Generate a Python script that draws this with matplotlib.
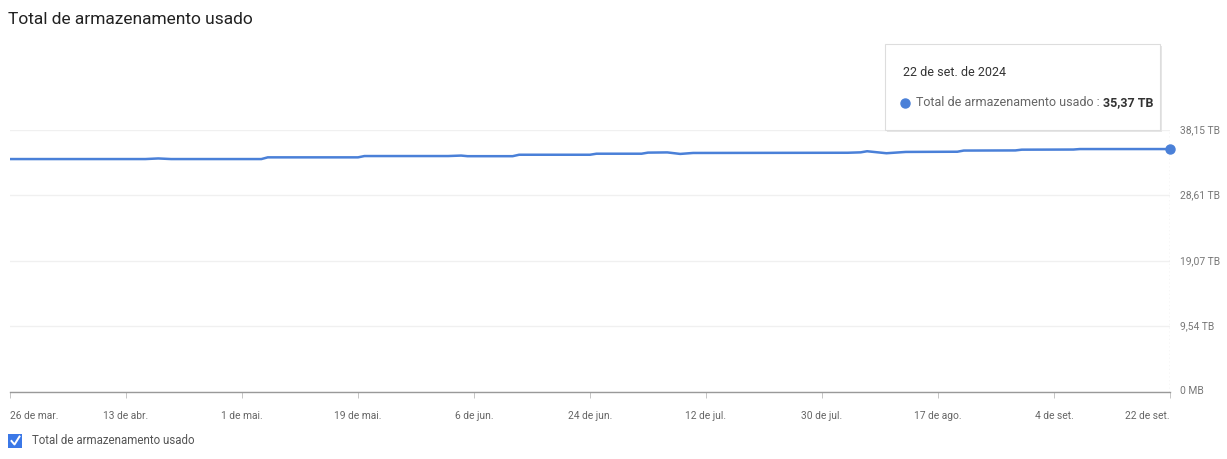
import numpy as np
import pandas as pd
import matplotlib
matplotlib.use("Agg")
import matplotlib.pyplot as plt
from matplotlib.patches import FancyBboxPatch

plt.rcParams["font.family"] = ["Roboto", "DejaVu Sans"]

# storage used (TB)
dates = pd.to_datetime([
    "2024-03-26", "2024-04-16", "2024-04-18", "2024-04-20", "2024-05-04",
    "2024-05-05", "2024-05-19", "2024-05-20", "2024-06-02", "2024-06-04",
    "2024-06-05", "2024-06-12", "2024-06-13", "2024-06-24", "2024-06-25",
    "2024-07-02", "2024-07-03", "2024-07-06", "2024-07-08", "2024-07-10",
    "2024-08-03", "2024-08-05", "2024-08-06", "2024-08-09", "2024-08-12",
    "2024-08-20", "2024-08-21", "2024-08-29", "2024-08-30", "2024-09-07",
    "2024-09-08", "2024-09-22",
])
used_tb = [
    33.91, 33.91, 34.00, 33.91, 33.91,
    34.16, 34.16, 34.35, 34.35, 34.42,
    34.33, 34.33, 34.54, 34.54, 34.69,
    34.69, 34.85, 34.88, 34.66, 34.80,
    34.83, 34.89, 35.05, 34.76, 34.95,
    34.98, 35.15, 35.17, 35.28, 35.30,
    35.37, 35.37,
]

tick_dates = pd.to_datetime([
    "2024-03-26", "2024-04-13", "2024-05-01", "2024-05-19", "2024-06-06",
    "2024-06-24", "2024-07-12", "2024-07-30", "2024-08-17", "2024-09-04",
    "2024-09-22",
])
tick_labels = ["26 de mar.", "13 de abr.", "1 de mai.", "19 de mai.", "6 de jun.",
               "24 de jun.", "12 de jul.", "30 de jul.", "17 de ago.", "4 de set.",
               "22 de set."]
y_ticks = [0, 9.54, 19.07, 28.61, 38.15]
y_labels = ["0 MB", "9,54 TB", "19,07 TB", "28,61 TB", "38,15 TB"]

blue = "#4a80d8"
W, H = 1227, 459

fig = plt.figure(figsize=(W / 100, H / 100), dpi=100)
ax = fig.add_axes([10 / W, 1 - 391.5 / H, 1160 / W, 261.5 / H])

ax.plot(dates, used_tb, color=blue, lw=1.8, solid_capstyle="round", zorder=3)
ax.plot(dates[-1], used_tb[-1], "o", color=blue, ms=6.5, zorder=4, clip_on=False)
ax.axvline(dates[-1], color="#bbbbbb", lw=0.9, ls=(0, (1, 2)), zorder=2)

ax.set_xlim(dates[0], dates[-1])
ax.set_ylim(0, 38.15)
ax.set_xticks(tick_dates)
ax.set_xticklabels(tick_labels)
for i, lab in enumerate(ax.get_xticklabels()):
    lab.set_ha("left" if i == 0 else ("right" if i == len(tick_labels) - 1 else "center"))
ax.tick_params(axis="x", length=4, width=0.6, color="#bbbbbb", labelsize=7.4,
               labelcolor="#666666", pad=10)

ax.yaxis.tick_right()
ax.set_yticks(y_ticks)
ax.set_yticklabels(y_labels)
ax.tick_params(axis="y", length=0, labelsize=7.4, labelcolor="#777777", pad=7)
for lab in ax.get_yticklabels():
    lab.set_va("center")

ax.grid(axis="y", color="#f0f0f0", lw=1)
for s in ["top", "right", "left"]:
    ax.spines[s].set_visible(False)
ax.spines["bottom"].set_color("#999999")
ax.spines["bottom"].set_linewidth(1)

fig.text(8 / W, 1 - 19 / H, "Total de armazenamento usado", fontsize=12.5,
         color="#222222", va="center", ha="left")

# tooltip
shadow = FancyBboxPatch((887 / W, 1 - 132 / H), 275 / W, 86 / H,
                        boxstyle="square,pad=0", transform=fig.transFigure,
                        facecolor="#e6e6e6", edgecolor="none", zorder=5)
box = FancyBboxPatch((885 / W, 1 - 130 / H), 275 / W, 86 / H,
                     boxstyle="square,pad=0", transform=fig.transFigure,
                     facecolor="white", edgecolor="#dddddd", lw=0.8, zorder=6)
fig.patches.extend([shadow, box])
fig.text(903 / W, 1 - 72 / H, "22 de set. de 2024", fontsize=9,
         color="#333333", va="center", ha="left", zorder=7)
fig.lines.append(plt.Line2D([905 / W], [1 - 103 / H], marker="o", ms=6.5,
                            color=blue, transform=fig.transFigure, zorder=7))
t1 = fig.text(916 / W, 1 - 103 / H, "Total de armazenamento usado : ",
              fontsize=9, color="#666666", va="center", ha="left", zorder=7)
fig.canvas.draw()
bb = t1.get_window_extent()
fig.text(bb.x1 / W, 1 - 103 / H, "35,37 TB", fontsize=9, color="#333333",
         fontweight="bold", va="center", ha="left", zorder=7)

# legend checkbox
cb = FancyBboxPatch((8 / W, 1 - 448 / H), 14 / W, 14 / H,
                    boxstyle="square,pad=0", transform=fig.transFigure,
                    facecolor="#3b78e7", edgecolor="none")
fig.patches.append(cb)
fig.lines.append(plt.Line2D([11.5 / W, 14.5 / W, 19.5 / W],
                            [1 - 441 / H, 1 - 444.5 / H, 1 - 436.5 / H],
                            color="white", lw=1.4, transform=fig.transFigure))
fig.text(32 / W, 1 - 441 / H, "Total de armazenamento usado", fontsize=8.3,
         color="#555555", va="center", ha="left")

fig.savefig("out.png", dpi=100)
